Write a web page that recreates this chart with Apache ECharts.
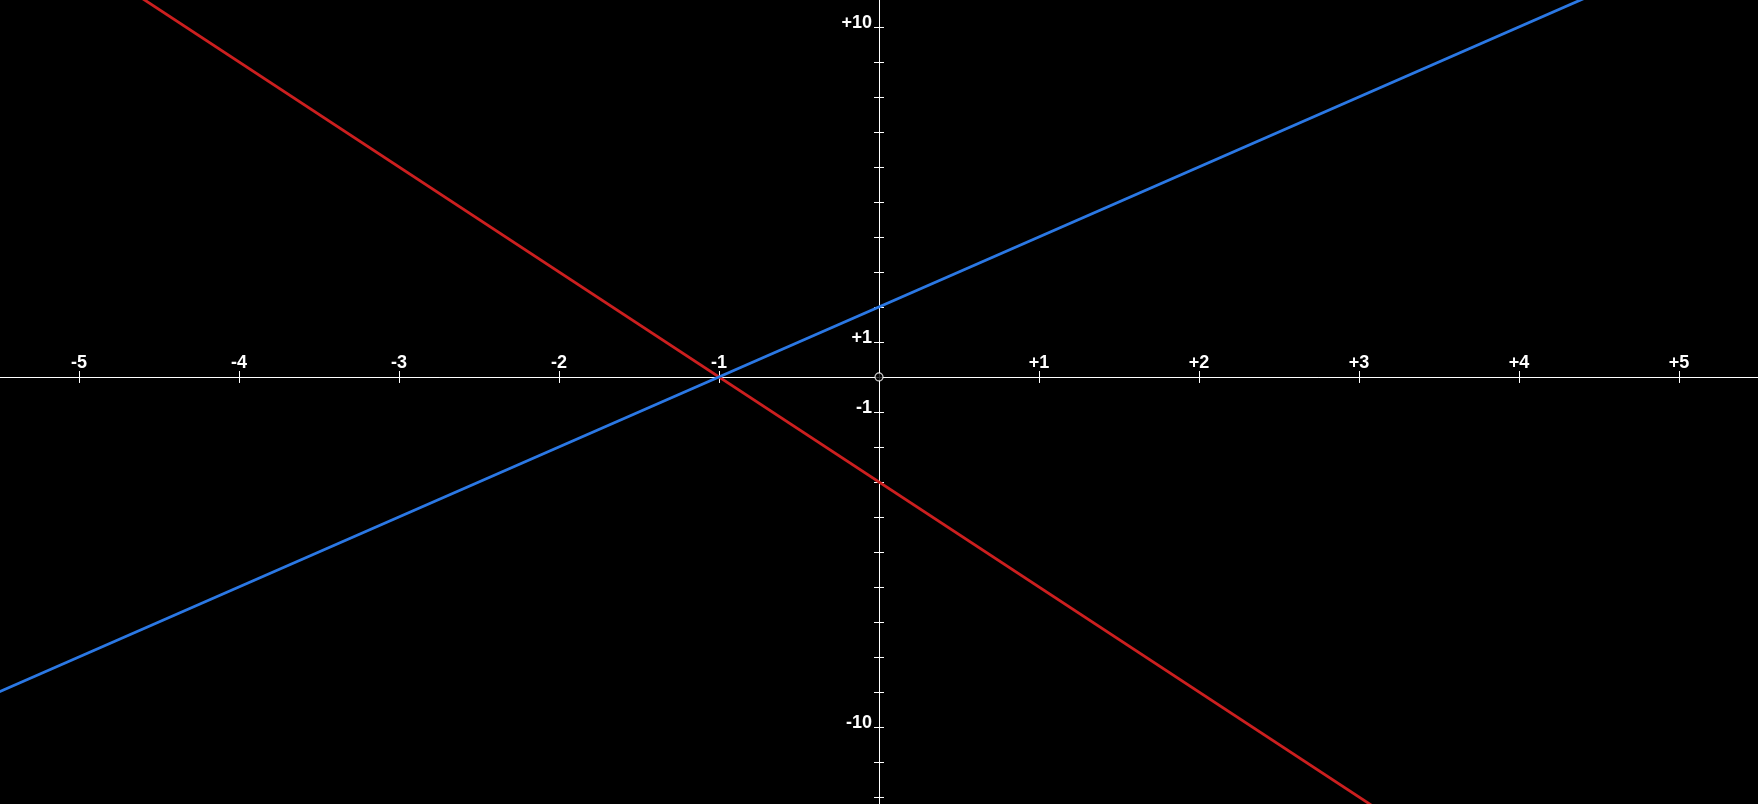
<!DOCTYPE html>
<html>
<head>
<meta charset="utf-8">
<title>Lines</title>
<script src="https://cdn.jsdelivr.net/npm/echarts@6/dist/echarts.min.js"></script>
<style>
  html, body { margin: 0; padding: 0; background: #000; }
  #chart { width: 1758px; height: 804px; }
</style>
</head>
<body>
<div id="chart"></div>
<script>
// axis ranges and ticks
const xRange = [-5.494, 5.494]
const yRange = [-12.2, 10.77]
const xTicks = [-5, -4, -3, -2, -1, 0, 1, 2, 3, 4, 5]
const xLabels = [-5, -4, -3, -2, -1, 1, 2, 3, 4, 5]
const yTicks = [-12, -11, -10, -9, -8, -7, -6, -5, -4, -3, -2, -1, 0, 1, 2, 3, 4, 5, 6, 7, 8, 9, 10]
const yLabels = [-10, -1, 1, 10]

// the two lines, end points past the view (clipped)
const blueLine = [[-6, -10], [6, 14]]
const redLine = [[-6, 15], [6, -21]]
const origin = [[0, 0]]

const chart = echarts.init(document.getElementById('chart'))

const fmt = v => (v > 0 ? '+' + v : String(v))
const labelFont = {
  color: '#fff',
  fontFamily: 'Liberation Sans, Arial, sans-serif',
  fontWeight: 'bold',
  fontSize: 18
}

// common axis parts
const xBase = {
  type: 'value',
  min: xRange[0],
  max: xRange[1],
  splitLine: { show: false },
  axisLine: { onZero: false, lineStyle: { color: '#fff', width: 1 } },
  axisTick: { customValues: xTicks, length: 6, lineStyle: { color: '#fff', width: 1 } }
}
const yBase = {
  type: 'value',
  min: yRange[0],
  max: yRange[1],
  splitLine: { show: false },
  axisLine: { onZero: false, lineStyle: { color: '#fff', width: 1 } },
  axisTick: { customValues: yTicks, length: 5, lineStyle: { color: '#fff', width: 1 } }
}

chart.setOption({
  backgroundColor: '#000',
  animation: false,
  grid: { left: 0, right: 0, top: 0, bottom: 0, containLabel: false, outerBoundsMode: 'none' },
  xAxis: [
    Object.assign({}, xBase, {
      position: 'top',
      axisLabel: Object.assign({ customValues: xLabels, formatter: fmt, margin: 5 }, labelFont)
    }),
    Object.assign({}, xBase, {
      position: 'bottom',
      axisLabel: { show: false }
    })
  ],
  yAxis: [
    Object.assign({}, yBase, {
      position: 'left',
      axisLabel: Object.assign({ customValues: yLabels, formatter: fmt, margin: 7, verticalAlign: 'bottom', lineHeight: 8 }, labelFont)
    }),
    Object.assign({}, yBase, {
      position: 'right',
      axisLabel: { show: false }
    })
  ],
  series: [
    {
      type: 'line',
      data: redLine,
      symbol: 'none',
      clip: true,
      lineStyle: { color: '#cc1f1f', width: 2.8 }
    },
    {
      type: 'line',
      data: blueLine,
      symbol: 'none',
      clip: true,
      lineStyle: { color: '#2b78e4', width: 2.8 }
    },
    {
      type: 'scatter',
      data: origin,
      symbol: 'circle',
      symbolSize: 8,
      z: 5,
      itemStyle: { color: '#000', borderColor: '#fff', borderWidth: 1.2 }
    }
  ]
})

// move the axes onto the origin (labels follow the line this way)
const o = chart.convertToPixel({ gridIndex: 0 }, [0, 0])
const w = chart.getWidth()
const h = chart.getHeight()
chart.setOption({
  xAxis: [{ offset: -o[1] }, { offset: -(h - o[1]) }],
  yAxis: [{ offset: -o[0] }, { offset: -(w - o[0]) }]
})
</script>
</body>
</html>
